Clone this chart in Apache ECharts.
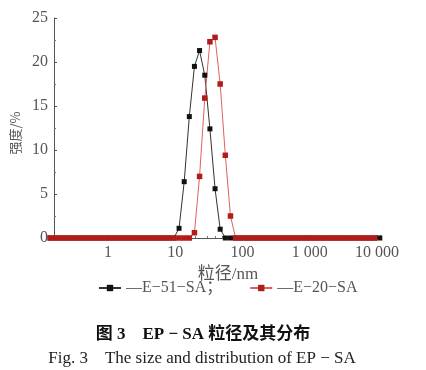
<!DOCTYPE html>
<html><head><meta charset="utf-8">
<script src="https://cdn.jsdelivr.net/npm/echarts@6/dist/echarts.min.js"></script>
<style>html,body{margin:0;padding:0;background:#fff}#c{width:426px;height:370px}</style>
</head><body><div id="c"></div>
<script>
// particle size bins (nm), log-spaced
const sizes = [0.138, 0.165, 0.197, 0.235, 0.280, 0.334, 0.399, 0.476, 0.567, 0.677, 0.807, 0.963,
  1.15, 1.37, 1.63, 1.95, 2.33, 2.77, 3.31, 3.95, 4.71, 5.62, 6.70, 7.99, 9.53,
  11.4, 13.6, 16.2, 19.3, 23.0, 27.5, 32.8, 39.1, 46.6,
  55.6, 66.3, 79.1, 94.4, 113, 134, 160, 191, 228, 272, 324, 387, 461, 550, 656, 783, 934,
  1114, 1329, 1585, 1891, 2255, 2690, 3209, 3828, 4566, 5446, 6497, 7749, 9243, 11026];
// intensity (%) of E-51-SA
const e51 = [0,0,0,0,0,0,0,0,0,0,0,0,0,0,0,0,0,0,0,0,0,0,0,0,0,
  1.1, 6.4, 13.8, 19.5, 21.3, 18.5, 12.4, 5.6, 1.0,
  0,0,0,0,0,0,0,0,0,0,0,0,0,0,0,0,0,0,0,0,0,0,0,0,0,0,0,0,0,0,0];
// intensity (%) of E-20-SA
const e20 = [0,0,0,0,0,0,0,0,0,0,0,0,0,0,0,0,0,0,0,0,0,0,0,0,0,0,0,0,
  0.6, 7.0, 15.9, 22.3, 22.8, 17.5, 9.4, 2.5,
  0,0,0,0,0,0,0,0,0,0,0,0,0,0,0,0,0,0,0,0,0,0,0,0,0,0,0,0];
const seriesNames = ['E−51−SA', 'E−20−SA'];
const xTickLabels = {0: '1', 1: '10', 2: '100', 3: '1 000', 4: '10 000'};
const yTicks = [0, 5, 10, 15, 20, 25];
const xTitle = '粒径/nm';
const yTitle = '强度/%';
const caption1 = '图 3　EP − SA 粒径及其分布';
const caption2 = 'Fig. 3　The size and distribution of EP − SA';

const serif = '"Liberation Serif","Noto Sans CJK SC",serif';
const toPairs = arr => arr.map((v, i) => [sizes[i], v]);

const chart = echarts.init(document.getElementById('c'), null, {renderer: 'canvas'});
chart.setOption({
  animation: false,
  backgroundColor: '#fff',
  grid: {left: 54, right: 46, top: 18, bottom: 132, containLabel: false},
  xAxis: {
    type: 'log', logBase: 10, min: 0.1574, max: 11100,
    name: xTitle, nameLocation: 'middle', nameGap: 21,
    nameTextStyle: {fontFamily: serif, fontSize: 17, color: '#555', padding: [0, 0, 0, 22]},
    axisLine: {lineStyle: {color: '#555', width: 1}},
    axisTick: {show: true, inside: true, length: 3, lineStyle: {color: '#555'}},
    minorTick: {show: true, splitNumber: 9, length: 2, lineStyle: {color: '#777'}},
    splitLine: {show: false},
    axisLabel: {
      fontFamily: serif, fontSize: 16, color: '#555', margin: 7,
      showMinLabel: false, showMaxLabel: false,
      formatter: v => {
        const l = Math.log10(v), r = Math.round(l);
        return (Math.abs(l - r) < 1e-6 && xTickLabels[r] !== undefined) ? xTickLabels[r] : '';
      }
    }
  },
  yAxis: {
    type: 'value', min: yTicks[0], max: yTicks[yTicks.length - 1], interval: 5,
    name: yTitle, nameLocation: 'middle', nameGap: 27, nameRotate: 90,
    nameTextStyle: {fontFamily: '"Noto Sans CJK SC",sans-serif', fontSize: 13, color: '#555', padding: [0, 10, 0, 0]},
    axisLine: {show: true, lineStyle: {color: '#555', width: 1}},
    axisTick: {show: true, inside: true, length: 3, lineStyle: {color: '#555'}},
    minorTick: {show: true, splitNumber: 2, length: 2, lineStyle: {color: '#777'}},
    splitLine: {show: false},
    axisLabel: {fontFamily: serif, fontSize: 16, color: '#555', margin: 6}
  },
  legend: {
    left: 93, top: 275, itemWidth: 22, itemHeight: 8, itemGap: 27,
    textStyle: {fontFamily: serif, fontSize: 16, color: '#555'},
    formatter: name => name === seriesNames[0] ? '—' + name + '；' : '—' + name,
    data: seriesNames
  },
  graphic: [
    {type: 'text', x: 203, y: 335, style: {text: caption1, align: 'center', verticalAlign: 'middle',
      fontSize: 17, fontWeight: 'bold', fontFamily: serif, fill: '#111'}},
    {type: 'text', x: 202, y: 359, style: {text: caption2, align: 'center', verticalAlign: 'middle',
      fontSize: 17, fontFamily: serif, fill: '#222'}}
  ],
  series: [
    {name: seriesNames[0], type: 'line', data: toPairs(e51), clip: false,
      symbol: 'rect', symbolSize: 5,
      itemStyle: {color: '#111'}, lineStyle: {color: '#333', width: 1}},
    {name: seriesNames[1], type: 'line', data: toPairs(e20), clip: false,
      symbol: 'rect', symbolSize: 5.5,
      itemStyle: {color: '#b31b1b'},
      lineStyle: {color: '#e06060', width: 1}}
  ]
});
</script></body></html>
